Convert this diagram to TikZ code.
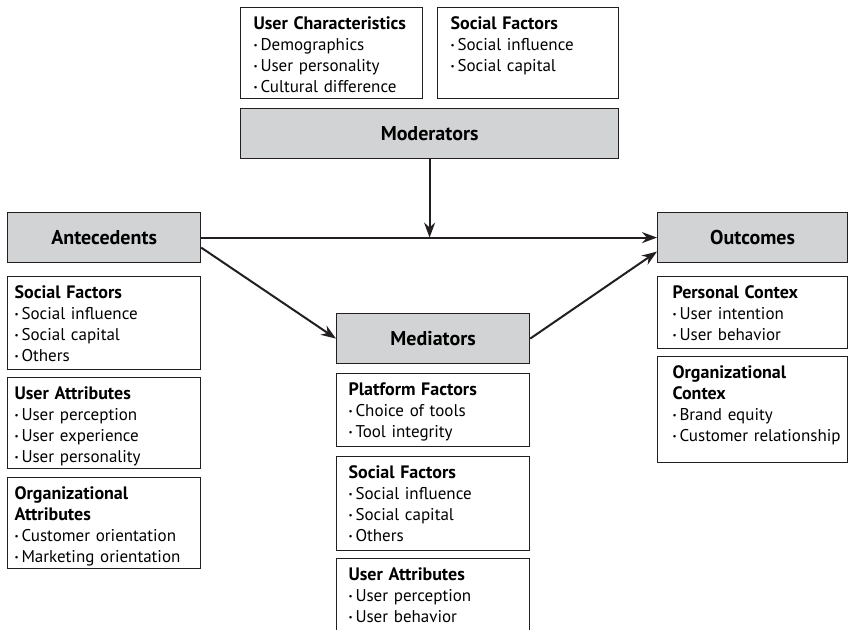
\documentclass[tikz,border=0pt]{standalone}
\usepackage{fontspec}
\setmainfont{PT Sans}
\usetikzlibrary{arrows.meta,arrows}
\usetikzlibrary{positioning}
\definecolor{boxgray}{RGB}{209,211,212}
\definecolor{edgegray}{RGB}{35,31,32}
\newcommand{\itm}[1]{\mbox{\raisebox{1.7pt}{\fontsize{9}{9}\selectfont\textbullet}\,#1}}
\newcommand{\hd}[1]{{\fontsize{18}{21}\selectfont\bfseries #1}}

\begin{document}
\begin{tikzpicture}[x=1pt,y=-1pt]
        \useasboundingbox (0,0) rectangle (850,629);

        \begin{scope}[every node/.style={draw=edgegray,line width=1.2pt,fill=boxgray,anchor=north west,
            minimum height=50pt,inner sep=0pt,font=\fontsize{20}{21}\selectfont\bfseries}]
            \node[minimum width=378pt] (mod) at (240,108) {Moderators};
            \node[minimum width=193pt] (ante) at (7,212) {Antecedents};
            \node[minimum width=193pt] (med) at (336,313) {Mediators};
            \node[minimum width=190pt] (outc) at (657,212) {Outcomes};
        \end{scope}

        \begin{scope}[every node/.style={draw=edgegray,line width=1.2pt,fill=white,anchor=north west,
            align=left,inner xsep=13pt,inner ysep=9pt,text height=12.5pt,font=\fontsize{17}{21}\selectfont}]
            \node[text width=156pt,text depth=60.5pt] (modUser) at (240,7)
                {\hd{User Characteristics}\\\itm{Demographics}\\\itm{User personality}\\\itm{Cultural difference}};
            \node[text width=155pt,text depth=60.5pt] (modSoc) at (437,7)
                {\hd{Social Factors}\\\itm{Social influence}\\\itm{Social capital}};

            \node[inner xsep=7pt,text width=179pt,text depth=62.5pt] (anteSoc) at (7,276)
                {\hd{Social Factors}\\\itm{Social influence}\\\itm{Social capital}\\\itm{Others}};
            \node[inner xsep=7pt,text width=179pt,text depth=60.5pt] (anteUser) at (7,377)
                {\hd{User Attributes}\\\itm{User perception}\\\itm{User experience}\\\itm{User personality}};
            \node[inner xsep=7pt,text width=179pt,text depth=60.5pt] (anteOrg) at (7,477)
                {\hd{Organizational}\\\hd{Attributes}\\\itm{Customer orientation}\\\itm{Marketing orientation}};

            \node[inner xsep=12pt,text width=169pt,text depth=42.5pt] (medPlat) at (336,373)
                {\hd{Platform Factors}\\\itm{Choice of tools}\\\itm{Tool integrity}};
            \node[inner xsep=12pt,text width=169pt,text depth=63.5pt] (medSoc) at (336,456)
                {\hd{Social Factors}\\\itm{Social influence}\\\itm{Social capital}\\\itm{Others}};
            \node[inner xsep=12pt,text width=169pt,text depth=64.5pt] (medUser) at (336,558)
                {\hd{User Attributes}\\\itm{User perception}\\\itm{User behavior}};

            \node[inner xsep=15pt,text width=160pt,text depth=41.5pt] (outcPers) at (657,276)
                {\hd{Personal Contex}\\\itm{User intention}\\\itm{User behavior}};
            \node[inner xsep=15pt,text width=160pt,text depth=75.5pt] (outcOrg) at (657,356)
                {\hd{Organizational}\\\hd{Contex}\\\itm{Brand equity}\\\itm{Customer relationship}};
        \end{scope}

        \coordinate (mid) at (mod.south |- ante.east);

        \begin{scope}[>={Stealth[length=15pt,width=11pt]},line width=2pt,draw=edgegray]
            \draw [->] (ante.east) -- (outc.west);
            \draw [->] (mod.south) -- (mid);
            \draw [->] ([yshift=-10pt]ante.east) -- (med.west);
            \draw [->] (med.east) -- ([yshift=-14pt]outc.west);
        \end{scope}
    \end{tikzpicture}
\end{document}
